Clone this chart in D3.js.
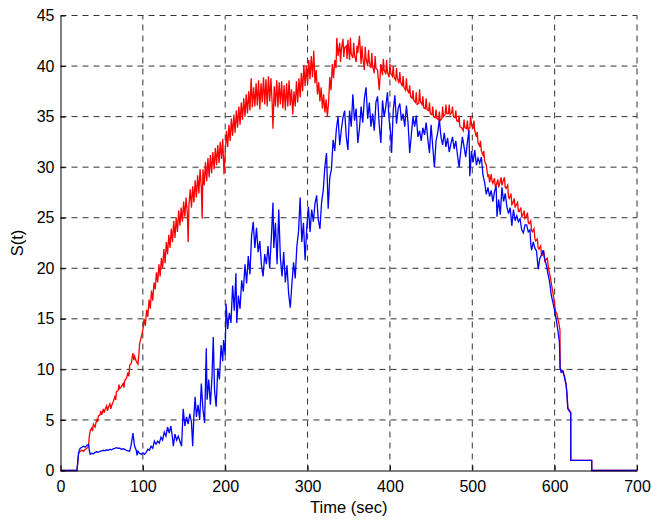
<!DOCTYPE html>
<meta charset="utf-8">
<script src="https://d3js.org/d3.v7.min.js"></script>
<style>
  body { margin: 0; background: #fff; }
  text { font-family: "Liberation Sans", Arial, Helvetica, sans-serif; }
</style>
<body>
<div id="chart"></div>
<script>
// tick values
var xTicks = [0, 100, 200, 300, 400, 500, 600, 700];
var yTicks = [0, 5, 10, 15, 20, 25, 30, 35, 40, 45];

// red series: [time (sec), S(t)]
var redData = [
  [0,0],[20,0],[21,0.8],[22,1.7],[24,1.9],[26,2.0],[28,1.9],[30,2.1],[32,2.2],[34,2.4],[35,3.4],[36,3.9],
  [38,4.2],[39,3.9],[40,4.6],[42,4.3],[44,5.1],[45,4.8],[46,5.4],[48,5.5],[49,5.9],[50,5.5],[52,6.1],[53,5.7],
  [54,6.0],[56,6.4],[57,5.9],[58,6.2],[60,6.6],[61,6.1],[62,6.4],[64,6.8],[66,7.3],[67,7.0],[68,7.8],[70,7.9],
  [71,8.5],[72,8.1],[74,8.3],[76,8.6],[77,8.2],[78,8.9],[80,9.1],[82,9.7],[83,9.3],[84,10.4],[86,10.6],[87,11.2],
  [88,11.6],[89,10.9],[90,11.3],[92,10.8],[94,10.5],[95,11.3],[96,12.5],[98,13.2],[100,13.9],
  [101.5,15.0],[103,14.3],[104.5,15.9],[106,15.2],[107.5,16.9],[109,16.0],[110.5,17.8],[112,16.8],[113.5,18.6],
  [115,17.9],[116.5,19.6],[118,18.6],[119.5,20.4],[121,19.2],[122.5,21.0],[124,20.0],[125.5,21.9],[127,20.5],
  [128.5,22.6],[130,21.4],[131.5,23.3],[133,22.0],[134.5,23.9],[136,22.6],[137.5,24.7],[139,23.0],[140.5,25.0],
  [142,23.6],[143.5,25.7],[145,24.2],[146.5,26.0],[148,24.6],[149.5,26.6],[151,25.1],[152.5,27.0],[154,25.5],
  [155,22.6],[156,26.3],[157.5,27.8],[159,26.0],[160.5,28.1],[162,26.5],[163.5,28.7],[165,27.0],[166.5,29.2],
  [168,27.4],[169.5,29.8],[171,28.0],[172,24.9],[173,29.8],[174.5,28.2],[176,30.5],[177.5,28.6],[179,30.9],
  [180.5,29.0],[182,31.2],[183.5,29.4],[185,31.5],[186.5,29.8],[188,31.9],[189.5,30.2],[191,32.2],[192.5,30.4],
  [194,32.5],[195.5,30.8],[197,32.8],[198.5,29.3],[200,31.4],
  [201.5,33.6],[203,32.0],[204.5,34.2],[206,32.6],[207.5,34.8],[209,33.1],[210.5,35.2],[212,33.4],[213.5,35.6],
  [215,33.9],[216.5,36.0],[218,34.2],[219.5,36.4],[221,34.7],[222.5,36.8],[224,35.0],[225.5,37.2],[227,35.3],
  [228.5,37.5],[230,35.6],[231.5,38.8],[233,35.9],[234.5,37.9],[236,36.0],[237.5,38.3],[239,36.1],[240.5,38.6],
  [242,35.7],[243.5,38.3],[245,36.4],[246.5,38.9],[248,36.2],[249.5,38.7],[251,36.0],[252.5,39.0],[254,36.5],
  [255.5,38.8],[257,36.3],[258,33.8],[259.5,38.0],[261,36.0],[262.5,38.6],[264,35.9],[265.5,38.4],[267,36.2],
  [268.5,38.5],[270,35.8],[271.5,38.1],[273,35.6],[274.5,38.3],[276,36.0],[277.5,38.6],[279,36.1],[280.5,37.7],
  [282,35.2],[283.5,37.5],[285,36.0],[286.5,38.5],[288,36.4],[289.5,38.8],[291,36.9],[292.5,39.3],[294,37.5],
  [295.5,40.1],[297,38.0],[298.5,40.0],[300,38.2],[301.5,40.6],[303,38.7],[304.5,41.0],[306,38.9],[307.5,41.5],
  [309,38.3],[310.5,39.6],[312,37.2],[313.5,38.4],[315,36.5],[316.5,37.9],[318,35.8],[319.5,37.2],[321,35.4],
  [322.5,36.7],[324,35.0],[325.5,36.4],[327,38.9],[328.5,37.6],[330,40.2],[331.5,38.8],[333,40.6],[334.5,39.8],
  [335.5,42.8],[337,41.0],[339,42.3],[340,40.4],[341,41.6],[343,42.7],[344,40.9],[345,41.8],[347,42.0],[348,40.7],
  [349,42.6],[351,40.6],[352,42.8],[353,41.2],[355,40.8],[356,42.3],[357,41.1],[359,40.4],[360,42.0],[361,41.3],
  [363,43.0],[365,40.2],[366,42.0],[367,40.9],[369,39.6],[370,41.9],[371,40.7],[373,40.0],[374,41.6],[375,40.4],
  [377,39.8],[378,41.3],[379,40.0],[381,39.3],[382,41.0],[383,39.8],[385,39.6],[387,37.6],[389,40.2],[391,39.1],
  [392,40.7],[393,39.6],[395,39.2],[396,40.6],[397,39.4],[399,38.9],[400,40.2],[401,39.3],[403,39.0],[404,40.0],
  [405,38.9],[407,38.6],[408,39.8],[409,38.8],[411,38.3],[412,39.4],[413,38.4],[415,38.0],[416,39.0],[417,37.9],
  [419,37.6],[420,38.8],[421,37.7],[423,37.3],[424,38.1],[425,37.0],[427,36.8],[428,37.6],[429,36.6],[431,36.4],
  [432,37.4],[433,36.2],[435,36.3],[436,37.7],[437,36.5],[439,36.2],[440,37.0],[441,35.9],[443,35.8],[444,36.8],
  [445,35.7],[447,35.6],[448,36.4],[449,35.3],[451,35.2],[452,36.0],[453,35.0],[455,34.9],[456,35.7],[457,34.8],
  [459,34.7],[460,35.5],[461,34.6],[463,34.8],[464,36.0],[465,35.0],[467,35.2],[468,36.2],[469,35.3],[471,35.3],
  [472,36.2],[473,35.2],[475,35.4],[476,36.0],[477,35.0],[479,34.9],[480,35.6],[481,34.6],[483,34.5],[484,35.1],
  [485,34.0],[487,33.9],[489,33.6],[490,34.7],[491,33.9],[493,33.8],[494,34.6],[495,33.7],[497,33.9],[498,35.0],
  [499,34.2],[501,33.8],[502,34.6],[503,33.6],[505,33.0],[506,33.5],[507,32.4],[509,32.1],[510,32.6],[511,31.6],
  [513,31.2],[514,31.6],[515,30.6],[517,30.2],[519,29.0],[520,29.3],[521,28.5],[523,29.3],[524,28.6],[525,28.4],
  [527,28.9],[528,28.0],[529,28.2],[531,28.8],[532,28.0],[533,28.3],[535,29.0],[536,28.2],[537,28.5],[539,29.0],
  [540,28.0],[541,27.9],[543,28.2],[544,27.0],[545,26.9],[547,27.4],[548,26.3],[549,26.4],[551,26.9],[552,26.0],
  [553,26.2],[555,26.5],[556,25.6],[557,25.6],[559,26.0],[560,25.1],[561,25.2],[563,25.7],[564,24.9],[565,25.0],
  [567,25.5],[568,24.5],[569,24.4],[571,24.7],[572,23.7],[573,23.6],[575,23.9],[576,22.9],[577,22.7],[579,22.9],
  [580,22.0],[581,21.9],[583,22.2],[584,21.4],[585,21.3],[587,21.6],[588,20.7],[589,20.8],[591,21.0],[593,19.8],
  [595,19.0],[597,18.0],[599,17.0],[601,15.8],[603,15.4],[605,14.6],[606.5,13.9],[606.6,10.2],[608,9.8],[610,9.9],
  [612,9.3],[614,8.5],[615,7.5],[616,6.2],[618.5,5.9],[619.5,5.8],[619.6,1.0],[645,1.0],[645.1,0],[700,0]
];

// blue series: [time (sec), S(t)]
var blueData = [
  [0,0],[20,0],[21,0.9],[22,1.8],[24,2.2],[26,2.3],[28,2.4],[30,2.3],[32,2.5],[34,2.6],[35,2.0],[36,1.6],
  [38,1.7],[40,1.65],[42,1.8],[44,1.85],[46,1.8],[48,1.9],[50,1.95],[52,2.0],[54,1.95],[56,2.05],[58,2.0],
  [60,2.1],[62,2.05],[64,2.15],[66,2.2],[68,2.25],[70,2.2],[72,2.2],[74,2.1],[76,2.15],[78,2.1],[80,2.0],
  [82,1.95],[84,1.9],[86,2.6],[88,3.7],[89,3.0],[90,2.4],[92,2.0],[93,1.5],[94,1.9],[96,1.7],[98,1.6],
  [100,1.75],[102,1.6],[104,1.8],[106,2.1],[108,2.0],[110,2.4],[112,2.2],[114,2.9],[116,2.6],[118,2.9],
  [120,2.7],[122,3.3],[124,3.0],[126,3.8],[128,3.4],[130,4.3],[132,3.7],[134,4.4],[136,3.2],[137,2.4],
  [139,3.6],[141,3.0],[143,3.4],[145,2.9],[147,2.4],[149,6.1],[151,4.4],[153,5.3],[155,4.6],[157,5.6],
  [159,4.8],[160.5,2.4],[162,5.5],[163.5,7.3],[165,5.3],[167,6.5],[169,5.0],[171,8.6],[173,6.0],[175,4.7],
  [177,12.1],[178,7.0],[180,9.0],[182,6.5],[184,9.4],[185.5,13.2],[187,8.0],[189,6.3],[191,10.1],[193,9.0],
  [195,12.4],[197,10.8],[198,12.9],[200,11.4],[201,16.5],[203,14.0],[205,15.6],[207,14.6],[209,18.3],[211,15.8],
  [213,19.5],[214,14.6],[216,17.3],[218,16.0],[220,18.8],[222,17.7],[224,20.4],[226,18.5],[228,21.2],[230,19.4],
  [232,23.2],[234,24.6],[236,22.0],[238,24.0],[240,21.6],[242,22.7],[244,20.3],[246,19.2],[248,21.4],[250,20.4],
  [252,22.2],[254,20.0],[256,23.0],[258,26.5],[259,22.0],[261,24.5],[263,20.4],[265,25.8],[267,21.0],[269,19.2],
  [271,21.6],[273,18.6],[275,20.3],[277,17.5],[279,16.1],[281,18.5],[283,20.6],[285,19.0],[287,22.2],[289,23.6],
  [291,27.0],[293,22.6],[295,24.5],[297,20.8],[299,24.0],[301,26.1],[303,23.6],[305,25.8],[307,24.6],[309,26.4],
  [311,27.2],[313,24.8],[315,23.9],[317,26.5],[319,27.7],[321,30.0],[323,31.4],[325,25.9],[327,29.0],[329,29.8],
  [331,32.7],[333,31.6],[335,33.8],[337,35.0],[339,32.2],[341,33.7],[343,34.9],[345,35.6],[347,33.0],[349,31.7],
  [351,35.6],[353,34.0],[355,37.2],[357,34.6],[359,35.8],[361,32.4],[363,33.8],[365,36.0],[367,34.4],[369,36.8],
  [371,37.9],[373,34.8],[375,36.4],[377,34.0],[379,35.3],[381,33.6],[383,36.4],[385,37.0],[387,34.2],[389,32.4],
  [391,36.6],[393,35.0],[395,36.0],[397,37.4],[399,34.7],[401,33.2],[402,31.4],[404,35.6],[406,37.1],[408,34.3],
  [410,35.8],[412,36.3],[414,34.6],[416,35.3],[418,34.0],[420,36.1],[422,34.4],[424,31.4],[426,33.2],[428,35.0],
  [430,34.0],[432,35.1],[434,33.0],[436,33.6],[438,32.6],[440,33.9],[442,33.2],[444,34.4],[446,32.8],[448,31.4],
  [450,34.2],[452,32.0],[454,30.0],[456,32.6],[458,33.4],[460,34.7],[462,33.0],[464,32.2],[466,33.4],[468,32.0],
  [470,32.9],[472,31.5],[474,32.3],[476,33.0],[478,31.8],[480,32.6],[482,31.2],[484,30.0],[486,31.6],[488,33.0],
  [490,32.0],[492,31.0],[494,32.4],[496,33.7],[497,29.1],[499,31.6],[501,30.5],[503,31.7],[505,30.2],[507,30.9],
  [509,30.4],[511,31.0],[513,29.2],[515,28.5],[517,27.3],[519,28.0],[521,27.1],[523,27.7],[525,26.6],[527,27.6],
  [529,28.1],[530,25.1],[532,26.8],[534,25.3],[536,28.0],[538,26.6],[540,27.4],[542,26.1],[544,25.4],[546,26.0],
  [548,24.2],[550,25.8],[552,24.7],[554,25.2],[556,24.6],[558,24.9],[560,23.8],[562,23.5],[564,24.3],[566,24.3],
  [568,23.6],[570,23.8],[571,22.4],[572,21.8],[574,22.6],[576,22.0],[578,21.7],[580,19.9],[582,21.0],[584,21.3],
  [586,21.8],[588,20.9],[590,20.3],[592,19.4],[594,18.6],[596,17.3],[598,16.6],[600,15.8],[602,14.9],[604,13.8],
  [605.8,12.7],[606.6,10.2],[608,9.7],[610,9.8],[612,9.2],[614,8.4],[615,7.5],[616,6.1],[618.5,5.8],[619.5,5.7],
  [619.6,1.0],[645,1.0],[645.1,0],[700,0]
];

var W = 651, H = 521;
var margin = { top: 15.5, right: 14, bottom: 50.5, left: 60.5 };

var svg = d3.select("#chart").append("svg")
    .attr("width", W)
    .attr("height", H)
    .style("background", "#fff");

var x = d3.scaleLinear().domain([0, 700]).range([margin.left, W - margin.right]);
var y = d3.scaleLinear().domain([0, 45]).range([H - margin.bottom, margin.top]);

// dashed grid
svg.append("g").selectAll("line")
  .data(xTicks.filter(function(d) { return d > 0; }))
  .enter().append("line")
    .attr("x1", function(d) { return x(d); })
    .attr("x2", function(d) { return x(d); })
    .attr("y1", y(0))
    .attr("y2", y(45))
    .attr("stroke", "#333")
    .attr("stroke-dasharray", "6,5");

svg.append("g").selectAll("line")
  .data(yTicks.filter(function(d) { return d > 0; }))
  .enter().append("line")
    .attr("x1", x(0))
    .attr("x2", x(700))
    .attr("y1", function(d) { return y(d); })
    .attr("y2", function(d) { return y(d); })
    .attr("stroke", "#333")
    .attr("stroke-dasharray", "6,5");

// data lines
var line = d3.line()
    .x(function(d) { return x(d[0]); })
    .y(function(d) { return y(d[1]); });

svg.append("path")
    .datum(redData)
    .attr("d", line)
    .attr("fill", "none")
    .attr("stroke", "#ff0000")
    .attr("stroke-width", 1.3);

svg.append("path")
    .datum(blueData)
    .attr("d", line)
    .attr("fill", "none")
    .attr("stroke", "#0000ff")
    .attr("stroke-width", 1.3);

// axes (inward ticks, no box)
var xAxis = svg.append("g")
    .attr("transform", "translate(0," + y(0) + ")")
    .call(d3.axisBottom(x).tickValues(xTicks).tickSizeInner(-5).tickSizeOuter(0).tickPadding(10));

var yAxis = svg.append("g")
    .attr("transform", "translate(" + x(0) + ",0)")
    .call(d3.axisLeft(y).tickValues(yTicks).tickSizeInner(-5).tickSizeOuter(0).tickPadding(6));

[xAxis, yAxis].forEach(function(a) {
  a.select(".domain").attr("stroke", "#000");
  a.selectAll(".tick line").attr("stroke", "#000");
  a.selectAll("text")
    .style("font-size", "16px")
    .style("font-family", '"Liberation Sans", Arial, Helvetica, sans-serif')
    .attr("fill", "#000");
});

// axis labels
svg.append("text")
    .attr("x", x(350))
    .attr("y", 513)
    .attr("text-anchor", "middle")
    .style("font-size", "16.5px")
    .text("Time (sec)");

svg.append("text")
    .attr("transform", "translate(23," + y(22.5) + ") rotate(-90)")
    .attr("text-anchor", "middle")
    .style("font-size", "16.5px")
    .text("S(t)");
</script>
</body>
